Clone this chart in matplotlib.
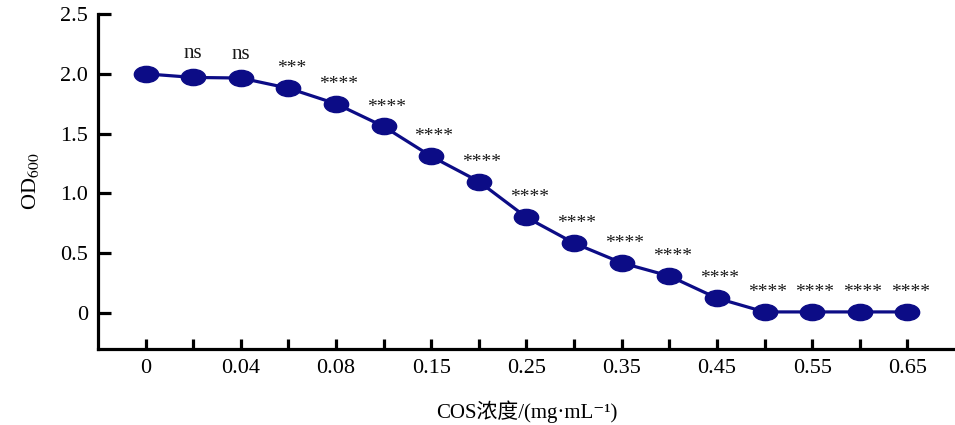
import matplotlib
matplotlib.use('Agg')
import matplotlib.pyplot as plt
import numpy as np
from matplotlib.path import Path

# COS concentration (mg/mL), only every other one gets a tick label
conc = ['0', '0.02', '0.04', '0.06', '0.08', '0.1', '0.15', '0.2', '0.25',
        '0.3', '0.35', '0.4', '0.45', '0.5', '0.55', '0.6', '0.65']
od600 = [2.00, 1.97, 1.965, 1.88, 1.75, 1.56, 1.31, 1.10, 0.80,
         0.585, 0.42, 0.31, 0.125, 0.01, 0.01, 0.01, 0.01]
sig = ['', 'ns', 'ns', '***', '****', '****', '****', '****', '****',
       '****', '****', '****', '****', '****', '****', '****', '****']
yticks = [0, 0.5, 1.0, 1.5, 2.0, 2.5]
ytick_labels = ['0', '0.5', '1.0', '1.5', '2.0', '2.5']

plt.rcParams['font.family'] = ['Liberation Serif', 'Noto Sans CJK SC', 'DejaVu Serif']
plt.rcParams['mathtext.fontset'] = 'stix'

navy = '#0c0c86'
# flat ellipse marker
circ = Path.unit_circle()
ell = Path(circ.vertices * np.array([1.5, 1.0]), circ.codes)

fig = plt.figure(figsize=(9.55, 4.25), dpi=100)
ax = fig.add_axes([0.1026, 0.1788, 0.8974, 0.7882])

x = np.arange(len(conc))
ax.plot(x, od600, color=navy, lw=2.3, marker=ell, markersize=17.5,
        markerfacecolor=navy, markeredgecolor=navy, zorder=3)

for xi, yi, s in zip(x, od600, sig):
    if s == '':
        continue
    if s == 'ns':
        ax.annotate(s, (xi, yi), xytext=(0, 17), textcoords='offset points',
                    ha='center', va='center', fontsize=15, color='#1a1a1a')
    else:
        ax.annotate(s, (xi, yi), xytext=(2, 14), textcoords='offset points',
                    ha='center', va='center', fontsize=14, color='#1a1a1a')

ax.set_xlim(-1, 17)
ax.set_ylim(-0.30, 2.5)
ax.set_xticks(x)
ax.set_xticklabels([c if i % 2 == 0 else '' for i, c in enumerate(conc)])
ax.set_yticks(yticks)
ax.set_yticklabels(ytick_labels)

for side in ['top', 'right']:
    ax.spines[side].set_visible(False)
for side in ['left', 'bottom']:
    ax.spines[side].set_linewidth(2.3)

ax.tick_params(axis='y', direction='in', length=9, width=2.3, pad=7, labelsize=16)
ax.tick_params(axis='x', direction='in', length=7, width=2.3, pad=7, labelsize=16)

ax.set_ylabel('OD$_{\\mathrm{600}}$', fontsize=16, labelpad=14)
ax.set_xlabel('COS浓度/(mg·mL⁻¹)', fontsize=15, labelpad=16)

fig.savefig('out.png', dpi=100)
